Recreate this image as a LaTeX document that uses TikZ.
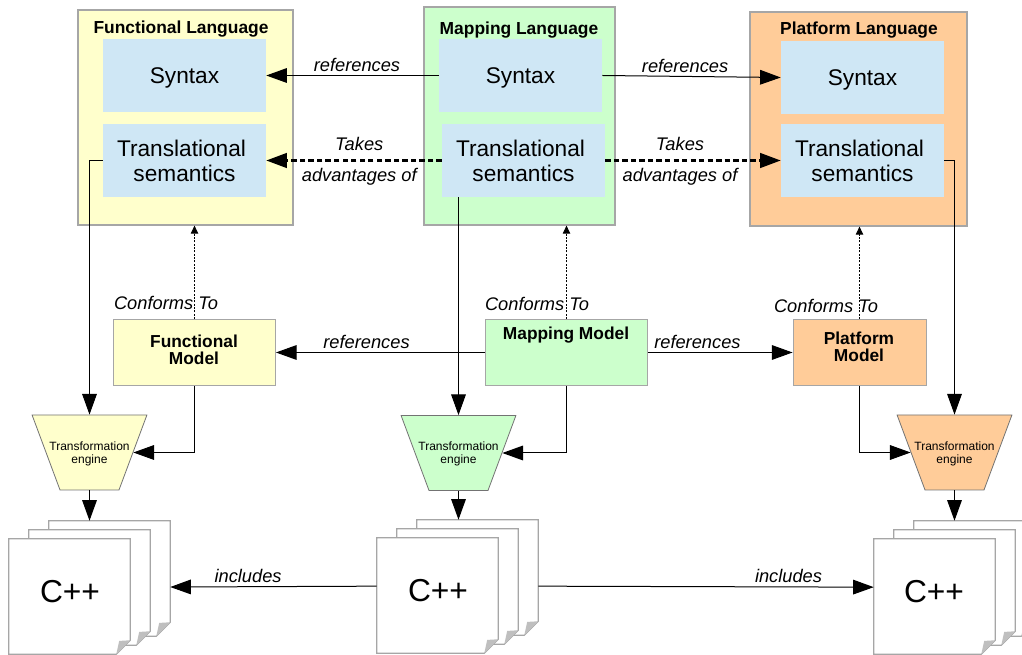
\documentclass[tikz,border=0pt]{standalone}
\usepackage{fontspec}
\setmainfont{Liberation Sans}
\usetikzlibrary{arrows.meta,shapes.geometric}

\definecolor{cyellow}{HTML}{FFFFCC}
\definecolor{cgreen}{HTML}{CCFFCC}
\definecolor{corange}{HTML}{FFCC99}
\definecolor{cblue}{HTML}{CFE7F5}
\definecolor{cborder}{HTML}{A6A6A6}

\begin{document}
\begin{tikzpicture}[x=.75pt,y=-.75pt,>={Triangle[length=15.5pt,width=11pt]},
    langbox/.style={draw=cborder, line width=.9pt, inner sep=0pt},
    innerbox/.style={fill=cblue, inner sep=0pt, minimum width=122.25pt, minimum height=54.75pt,
        align=center, font=\fontsize{17}{18.75}\selectfont},
    syntaxbox/.style={innerbox, text depth=-1.4pt},
    transbox/.style={innerbox, text depth=-1.3pt},
    title/.style={font=\fontsize{13.05}{16}\selectfont\bfseries, inner sep=0pt},
    modelbox/.style={draw=cborder, line width=.7pt, inner sep=0pt, minimum height=49.5pt},
    modeltext/.style={font=\fontsize{13}{13}\selectfont\bfseries, align=center, inner sep=0pt},
    enginebox/.style={trapezium, shape border rotate=180, trapezium angle=54.6, trapezium stretches=true,
        draw=black!55, line width=.6pt, inner sep=0pt, minimum width=86.25pt, minimum height=56.25pt,
        text width=30pt, text height=20pt},
    enginetext/.style={align=center, inner sep=0pt, font=\fontsize{9}{9.75}\selectfont},
    cpppage/.style={inner sep=0pt, minimum width=90.75pt, minimum height=86.25pt},
    cpptext/.style={font=\fontsize{23.8}{26}\selectfont, inner sep=0pt},
    verb/.style={font=\fontsize{13.7}{16}\selectfont\itshape, inner sep=2.7pt},
    link/.style={->, line width=.75pt},
    takes/.style={->, line width=1.8pt, dash pattern=on 4pt off 2.4pt},
    conform/.style={line width=.7pt, dash pattern=on 1.5pt off 1pt, -{Triangle[length=6pt,width=5.5pt]}}]
    \path[use as bounding box, clip] (0,0) rectangle (1022,655);

    % language boxes
    \node[langbox, fill=cyellow, minimum width=161.25pt, minimum height=161.25pt] (fnbox) at (185.5,117.5) {};
    \node[langbox, fill=cgreen, minimum width=143.25pt, minimum height=163.5pt] (mapbox) at (519.5,116) {};
    \node[langbox, fill=corange, minimum width=162.75pt, minimum height=160.5pt] (pfbox) at (858.5,119) {};
    \node[title] (fntitle) at (181,29) {Functional Language};
    \node[title] (maptitle) at (519,30) {Mapping Language};
    \node[title] (pftitle) at (859,30) {Platform Language};

    \node[syntaxbox] (fnsyntax) at (184.5,75.5) {Syntax};
    \node[syntaxbox] (mapsyntax) at (520.5,75.5) {Syntax};
    \node[syntaxbox] (pfsyntax) at (862.5,77.5) {Syntax};
    \node[transbox] (fntrans) at (184.5,160.5) {Translational\kern4.5pt\\semantics};
    \node[transbox] (maptrans) at (523.5,160.5) {Translational\kern4.5pt\\semantics};
    \node[transbox] (pftrans) at (862.5,160.5) {Translational\kern4.5pt\\semantics};

    % models
    \node[modelbox, fill=cyellow, minimum width=121.5pt] (fnmodel) at (194.5,352.5) {};
    \node[modelbox, fill=cgreen, minimum width=121.5pt] (mapmodel) at (566.5,352.5) {};
    \node[modelbox, fill=corange, minimum width=99.75pt] (pfmodel) at (859.5,352.5) {};
    \node[modeltext] (fnmodeltext) at (194,350) {Functional\\Model};
    \node[modeltext] (mapmodeltext) at (566,335) {Mapping Model};
    \node[modeltext] (pfmodeltext) at (859,347) {Platform\\Model};

    % engines
    \node[enginebox, fill=cyellow] (fnengine) at (89.5,452.5) {};
    \node[enginebox, fill=cgreen] (mapengine) at (458.5,453) {};
    \node[enginebox, fill=corange] (pfengine) at (954.5,452.5) {};
    \node[enginetext] (fnenginetext) at (89.5,453.5) {Transformation\\engine};
    \node[enginetext] (mapenginetext) at (458.5,453.5) {Transformation\\engine};
    \node[enginetext] (pfenginetext) at (954.5,453.5) {Transformation\\engine};

    % page stacks
    \foreach \stack/\x/\y in {fn/9/539, map/377/538, pf/874/539} {
        \foreach \i/\dx/\dy in {3/40/-18, 2/20/-9, 1/0/0} {
            \node[cpppage] (\stack page\i) at (\x+60.5+\dx,\y+57.5+\dy) {};
            \filldraw[draw=cborder, fill=white, line width=.8pt]
                (\stack page\i.north west) -- (\stack page\i.north east)
                -- ([yshift=10.5pt]\stack page\i.south east)
                -- ([xshift=-10.5pt]\stack page\i.south east)
                -- (\stack page\i.south west) -- cycle;
            \fill[black!25] ([yshift=10.5pt]\stack page\i.south east)
                -- ([xshift=-10.5pt]\stack page\i.south east)
                -- ([xshift=-8.3pt,yshift=10pt]\stack page\i.south east) -- cycle;
        }
    }
    \node[cpptext] (fncpp) at (70,592) {C++};
    \node[cpptext] (mapcpp) at (438,591) {C++};
    \node[cpptext] (pfcpp) at (934,592) {C++};

    % connectors
    \path[link]
        (mapsyntax.west) edge node[verb, above, pos=.474] {references} (fnsyntax.east)
        (mapsyntax.east) edge node[verb, above, pos=.464] {references} (pfsyntax.west)
        (mapmodel.west) edge node[verb, above, pos=.567] {references} (fnmodel.east)
        (mapmodel.east) edge node[verb, above, pos=.342] {references} (pfmodel.west)
        ([yshift=7pt]mappage1.west) edge node[verb, above, pos=.623] {includes} ([yshift=-6.4pt]fnpage3.east)
        ([yshift=-6.5pt]mappage3.east) edge node[verb, above, pos=.746] {includes} ([yshift=7pt]pfpage1.west)
        (fnengine.south) edge (fnengine.south |- fnpage3.north)
        (mapengine.south) edge (mapengine.south |- mappage3.north)
        (pfengine.south) edge (pfengine.south |- pfpage3.north)
        (mapengine.north |- maptrans.south) edge (mapengine.north);
    \path[takes]
        (maptrans.west) edge node[verb, above, pos=.47, yshift=3.6pt, solid] {Takes}
            node[verb, below, pos=.47, yshift=-2.3pt, solid] {advantages of} (fntrans.east)
        (maptrans.east) edge node[verb, above, pos=.426, yshift=3.6pt, solid] {Takes}
            node[verb, below, pos=.426, yshift=-2.3pt, solid] {advantages of} (pftrans.west);
    \draw[link] (fntrans.west) -| (fnengine.north);
    \draw[link] (pftrans.east) -| (pfengine.north);
    \draw[link] (fnmodel.south) |- (fnengine.east);
    \draw[link] (mapmodel.south) |- (mapengine.east);
    \draw[link] (pfmodel.south) |- (pfengine.west);
    \draw[conform] (fnmodel.north) -- (fnmodel.north |- fnbox.south);
    \draw[conform] (mapmodel.north) -- (mapmodel.north |- mapbox.south);
    \draw[conform] (pfmodel.north) -- (pfmodel.north |- pfbox.south);
    \node[verb] (fnconform) at (166,303) {Conforms To};
    \node[verb] (mapconform) at (537,304) {Conforms To};
    \node[verb] (pfconform) at (826,306) {Conforms To};
\end{tikzpicture}
\end{document}
